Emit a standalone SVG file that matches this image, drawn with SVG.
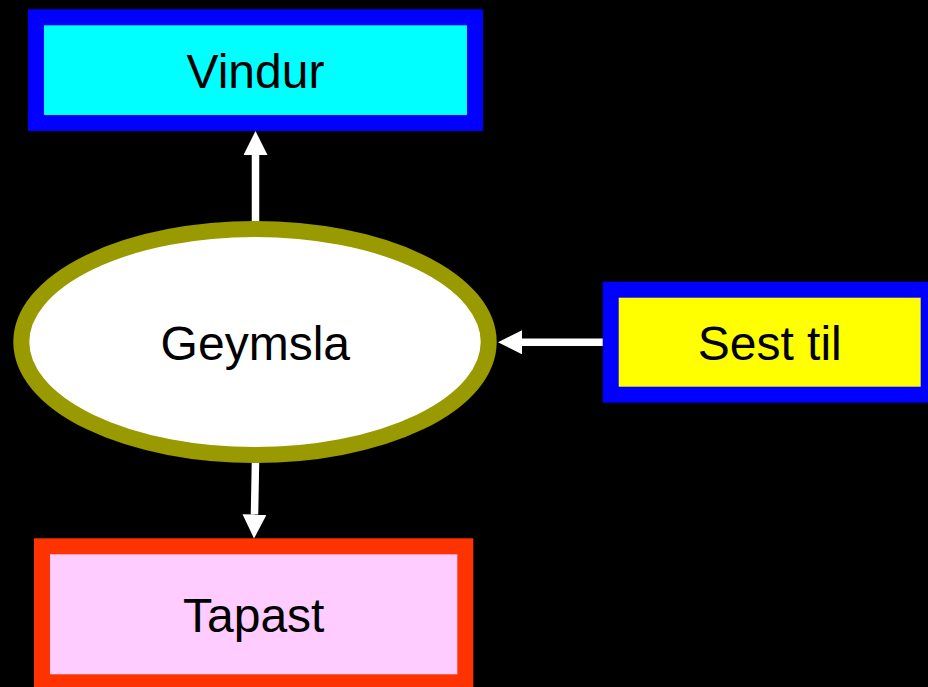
<svg xmlns="http://www.w3.org/2000/svg" width="928" height="687" viewBox="0 0 928 687">
  <style>
    .lbl { font-family: "Liberation Sans", Arial, sans-serif; font-size: 48px; fill: #000000; text-anchor: middle; }
    .box { stroke-width: 16; }
    .conn { stroke: #ffffff; stroke-width: 7.5; fill: none; marker-end: url(#arrow); }
  </style>
  <defs>
    <marker id="arrow" markerUnits="userSpaceOnUse" markerWidth="24" markerHeight="24" viewBox="0 0 24 24" refX="0" refY="12" orient="auto">
      <path d="M0,0 L24,12 L0,24 z" fill="#ffffff"/>
    </marker>
  </defs>
  <rect x="0" y="0" width="928" height="687" fill="#000000"/>
  <g id="connectors">
    <line class="conn" x1="255.5" y1="222" x2="255.5" y2="155"/>
    <line class="conn" x1="603" y1="342.3" x2="522" y2="342.3"/>
    <line class="conn" x1="255.5" y1="461" x2="254.5" y2="514.5"/>
  </g>
  <g id="vindur">
    <rect class="box" x="36" y="17.3" width="439" height="105.7" fill="#00ffff" stroke="#0000ff"/>
    <text class="lbl" x="255.5" y="88.3">Vindur</text>
  </g>
  <g id="geymsla">
    <ellipse cx="255" cy="342" rx="233.7" ry="113" fill="#ffffff" stroke="#999900" stroke-width="16"/>
    <text class="lbl" x="255.3" y="360">Geymsla</text>
  </g>
  <g id="sesttil">
    <rect class="box" x="610.7" y="289.7" width="318" height="105" fill="#ffff00" stroke="#0000ff"/>
    <text class="lbl" x="769.7" y="360">Sest til</text>
  </g>
  <g id="tapast">
    <rect class="box" x="42" y="546.3" width="423.3" height="136" fill="#ffccff" stroke="#ff3300"/>
    <text class="lbl" x="253.7" y="632.3">Tapast</text>
  </g>
</svg>
